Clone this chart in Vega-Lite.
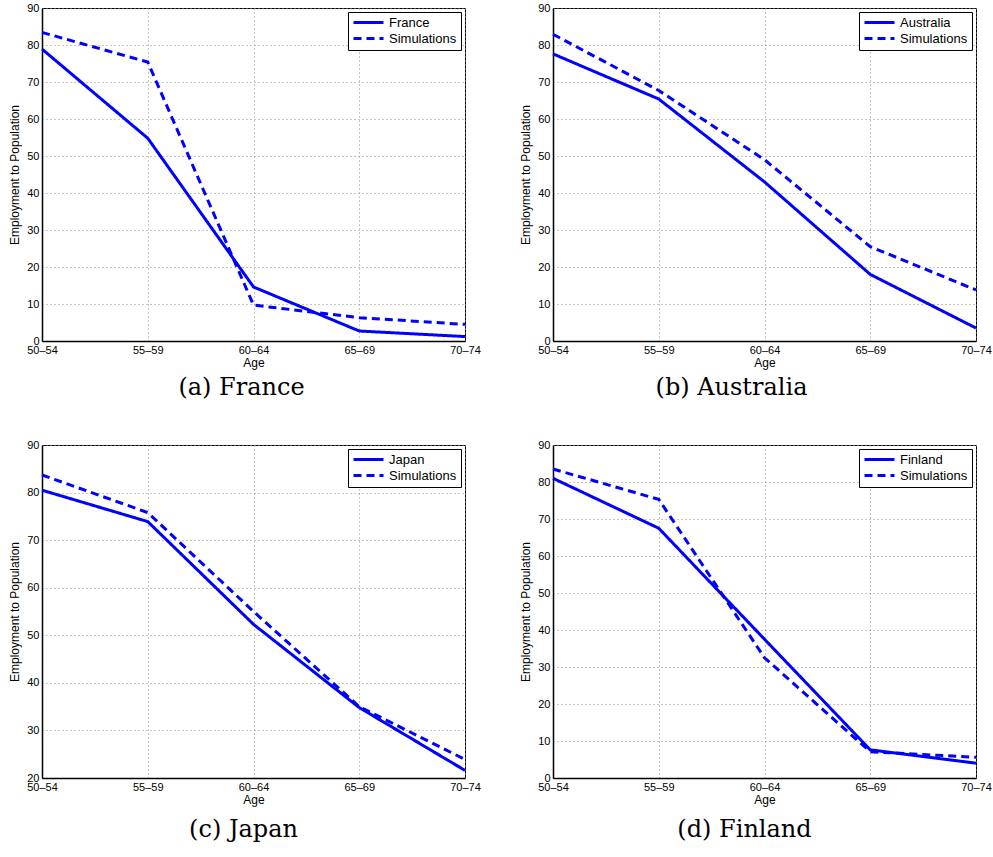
{
  "$schema": "https://vega.github.io/schema/vega-lite/v6.json",
  "background": "white",
  "padding": {"left": 8, "top": 1, "right": 2, "bottom": 5},
  "datasets": {
    "emp": [
      {"panel": "a", "series": "France", "age": "50–54", "value": 78.9},
      {"panel": "a", "series": "France", "age": "55–59", "value": 54.8},
      {"panel": "a", "series": "France", "age": "60–64", "value": 14.6},
      {"panel": "a", "series": "France", "age": "65–69", "value": 2.7},
      {"panel": "a", "series": "France", "age": "70–74", "value": 1.2},
      {"panel": "a", "series": "Simulations", "age": "50–54", "value": 83.4},
      {"panel": "a", "series": "Simulations", "age": "55–59", "value": 75.4},
      {"panel": "a", "series": "Simulations", "age": "60–64", "value": 9.7},
      {"panel": "a", "series": "Simulations", "age": "65–69", "value": 6.3},
      {"panel": "a", "series": "Simulations", "age": "70–74", "value": 4.5},
      {"panel": "b", "series": "Australia", "age": "50–54", "value": 77.6},
      {"panel": "b", "series": "Australia", "age": "55–59", "value": 65.4},
      {"panel": "b", "series": "Australia", "age": "60–64", "value": 43.0},
      {"panel": "b", "series": "Australia", "age": "65–69", "value": 18.0},
      {"panel": "b", "series": "Australia", "age": "70–74", "value": 3.5},
      {"panel": "b", "series": "Simulations", "age": "50–54", "value": 82.9},
      {"panel": "b", "series": "Simulations", "age": "55–59", "value": 67.7},
      {"panel": "b", "series": "Simulations", "age": "60–64", "value": 49.0},
      {"panel": "b", "series": "Simulations", "age": "65–69", "value": 25.5},
      {"panel": "b", "series": "Simulations", "age": "70–74", "value": 13.8},
      {"panel": "c", "series": "Japan", "age": "50–54", "value": 80.5},
      {"panel": "c", "series": "Japan", "age": "55–59", "value": 73.9},
      {"panel": "c", "series": "Japan", "age": "60–64", "value": 52.3},
      {"panel": "c", "series": "Japan", "age": "65–69", "value": 34.8},
      {"panel": "c", "series": "Japan", "age": "70–74", "value": 21.6},
      {"panel": "c", "series": "Simulations", "age": "50–54", "value": 83.7},
      {"panel": "c", "series": "Simulations", "age": "55–59", "value": 75.8},
      {"panel": "c", "series": "Simulations", "age": "60–64", "value": 55.0},
      {"panel": "c", "series": "Simulations", "age": "65–69", "value": 35.0},
      {"panel": "c", "series": "Simulations", "age": "70–74", "value": 23.9},
      {"panel": "d", "series": "Finland", "age": "50–54", "value": 81.0},
      {"panel": "d", "series": "Finland", "age": "55–59", "value": 67.5},
      {"panel": "d", "series": "Finland", "age": "60–64", "value": 37.5},
      {"panel": "d", "series": "Finland", "age": "65–69", "value": 7.6},
      {"panel": "d", "series": "Finland", "age": "70–74", "value": 4.0},
      {"panel": "d", "series": "Simulations", "age": "50–54", "value": 83.5},
      {"panel": "d", "series": "Simulations", "age": "55–59", "value": 75.3},
      {"panel": "d", "series": "Simulations", "age": "60–64", "value": 32.5},
      {"panel": "d", "series": "Simulations", "age": "65–69", "value": 7.1},
      {"panel": "d", "series": "Simulations", "age": "70–74", "value": 5.6}
    ]
  },
  "data": {"name": "emp"},
  "columns": 2,
  "bounds": "flush",
  "spacing": {"row": 104, "column": 88},
  "resolve": {"scale": {"strokeDash": "independent", "y": "independent"}, "legend": {"strokeDash": "independent"}},
  "concat": [
    {
      "width": 423, "height": 333,
      "title": {"text": "(a) France", "dx": -12},
      "transform": [{"filter": "datum.panel === 'a'"}],
      "mark": {"type": "line", "color": "#0000ff", "strokeWidth": 3},
      "encoding": {
        "x": {"field": "age", "type": "ordinal", "scale": {"type": "point", "padding": 0}, "title": "Age"},
        "y": {"field": "value", "type": "quantitative", "scale": {"domain": [0, 90]}, "axis": {"values": [0,10,20,30,40,50,60,70,80,90]}, "title": "Employment to Population"},
        "strokeDash": {"field": "series", "type": "nominal", "scale": {"domain": ["France", "Simulations"], "range": [[1, 0], [8, 5]]}}
      }
    },
    {
      "width": 423, "height": 333,
      "title": {"text": "(b) Australia", "dx": -33},
      "transform": [{"filter": "datum.panel === 'b'"}],
      "mark": {"type": "line", "color": "#0000ff", "strokeWidth": 3},
      "encoding": {
        "x": {"field": "age", "type": "ordinal", "scale": {"type": "point", "padding": 0}, "title": "Age"},
        "y": {"field": "value", "type": "quantitative", "scale": {"domain": [0, 90]}, "axis": {"values": [0,10,20,30,40,50,60,70,80,90]}, "title": "Employment to Population"},
        "strokeDash": {"field": "series", "type": "nominal", "scale": {"domain": ["Australia", "Simulations"], "range": [[1, 0], [8, 5]]}}
      }
    },
    {
      "width": 423, "height": 333,
      "title": {"text": "(c) Japan", "dx": -10, "offset": 13},
      "transform": [{"filter": "datum.panel === 'c'"}],
      "mark": {"type": "line", "color": "#0000ff", "strokeWidth": 3},
      "encoding": {
        "x": {"field": "age", "type": "ordinal", "scale": {"type": "point", "padding": 0}, "title": "Age"},
        "y": {"field": "value", "type": "quantitative", "scale": {"domain": [20, 90]}, "axis": {"values": [20,30,40,50,60,70,80,90]}, "title": "Employment to Population"},
        "strokeDash": {"field": "series", "type": "nominal", "scale": {"domain": ["Japan", "Simulations"], "range": [[1, 0], [8, 5]]}}
      }
    },
    {
      "width": 423, "height": 333,
      "title": {"text": "(d) Finland", "dx": -20, "offset": 13},
      "transform": [{"filter": "datum.panel === 'd'"}],
      "mark": {"type": "line", "color": "#0000ff", "strokeWidth": 3},
      "encoding": {
        "x": {"field": "age", "type": "ordinal", "scale": {"type": "point", "padding": 0}, "title": "Age"},
        "y": {"field": "value", "type": "quantitative", "scale": {"domain": [0, 90]}, "axis": {"values": [0,10,20,30,40,50,60,70,80,90]}, "title": "Employment to Population"},
        "strokeDash": {"field": "series", "type": "nominal", "scale": {"domain": ["Finland", "Simulations"], "range": [[1, 0], [8, 5]]}}
      }
    }
  ],
  "config": {
    "view": {"stroke": "black", "strokeWidth": 1},
    "title": {"orient": "bottom", "anchor": "middle", "frame": "group", "font": "DejaVu Serif", "fontSize": 24, "fontWeight": "normal", "color": "black", "offset": 8},
    "axis": {
      "labelFont": "Liberation Sans", "labelFontSize": 11, "labelColor": "black",
      "titleFont": "Liberation Sans", "titleFontSize": 12, "titleFontWeight": "normal", "titleColor": "black",
      "domainColor": "black", "domainWidth": 1.5,
      "tickSize": 0, "labelPadding": 3,
      "grid": true, "gridColor": "#8c8c8c", "gridDash": [1, 3], "gridWidth": 1, "gridOpacity": 1
    },
    "axisX": {"labelAngle": 0, "titlePadding": 2},
    "axisY": {"titlePadding": 5},
    "legend": {
      "orient": "top-right", "offset": 4, "title": null,
      "strokeColor": "black", "fillColor": "white", "padding": 4, "cornerRadius": 0,
      "labelFont": "Liberation Sans", "labelFontSize": 13, "labelColor": "black", "labelOffset": 24,
      "symbolType": "M-1,0H5", "symbolSize": 100, "symbolStrokeWidth": 3, "symbolStrokeColor": "#0000ff",
      "rowPadding": 2
    }
  }
}
